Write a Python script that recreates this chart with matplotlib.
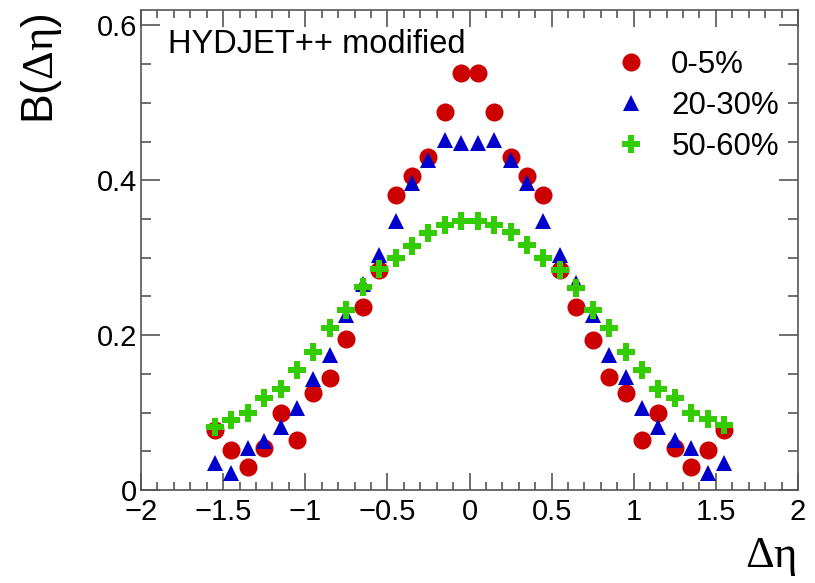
import matplotlib
matplotlib.use("Agg")
import matplotlib.pyplot as plt
from matplotlib.ticker import MultipleLocator

plt.rcParams['font.family'] = ['Liberation Sans', 'DejaVu Sans']
plt.rcParams['mathtext.fontset'] = 'custom'
plt.rcParams['mathtext.rm'] = 'Liberation Serif'
plt.rcParams['mathtext.it'] = 'Liberation Serif:italic'

# ---- data ----
deta = [-1.55, -1.45, -1.35, -1.25, -1.15, -1.05, -0.95, -0.85, -0.75, -0.65,
        -0.55, -0.45, -0.35, -0.25, -0.15, -0.05,
        0.05, 0.15, 0.25, 0.35, 0.45, 0.55, 0.65, 0.75, 0.85, 0.95,
        1.05, 1.15, 1.25, 1.35, 1.45, 1.55]

b_0_5 = [0.077, 0.052, 0.030, 0.054, 0.100, 0.065, 0.125, 0.145, 0.195, 0.236,
         0.284, 0.381, 0.406, 0.430, 0.488, 0.538,
         0.538, 0.488, 0.430, 0.406, 0.381, 0.284, 0.236, 0.194, 0.146, 0.125,
         0.065, 0.100, 0.054, 0.030, 0.052, 0.077]

b_20_30 = [0.035, 0.022, 0.054, 0.063, 0.081, 0.106, 0.143, 0.174, 0.226, 0.266,
           0.303, 0.348, 0.396, 0.426, 0.452, 0.448,
           0.448, 0.452, 0.426, 0.396, 0.348, 0.303, 0.267, 0.226, 0.174, 0.146,
           0.106, 0.081, 0.065, 0.054, 0.022, 0.035]

b_50_60 = [0.082, 0.091, 0.099, 0.119, 0.131, 0.155, 0.178, 0.209, 0.232, 0.262,
           0.285, 0.300, 0.315, 0.332, 0.342, 0.347,
           0.347, 0.342, 0.333, 0.316, 0.300, 0.284, 0.261, 0.232, 0.209, 0.178,
           0.155, 0.131, 0.119, 0.099, 0.092, 0.084]

labels = ['0-5%', '20-30%', '50-60%']
colors = ['#cc0000', '#0000cc', '#33cc00']

# ---- figure ----
W, H = 815, 583
fig = plt.figure(figsize=(W / 100, H / 100), dpi=100)
ax = fig.add_axes([141 / W, 1 - 490 / H, (798 - 141) / W, (490 - 10) / H])

ax.plot(deta, b_0_5, linestyle='none', marker='o', ms=13, mew=0,
        color=colors[0], label=labels[0])
ax.plot(deta, b_20_30, linestyle='none', marker='^', ms=11.5, mew=0,
        color=colors[1], label=labels[1])
ax.plot(deta, b_50_60, linestyle='none', marker='P', ms=13, mew=0,
        color=colors[2], label=labels[2])

ax.set_xlim(-2, 2)
ax.set_ylim(0, 0.62)
ax.xaxis.set_major_locator(MultipleLocator(0.5))
ax.xaxis.set_minor_locator(MultipleLocator(0.1))
ax.yaxis.set_major_locator(MultipleLocator(0.2))
ax.yaxis.set_minor_locator(MultipleLocator(0.05))

def fmt(v, pos):
    if abs(v) < 1e-9:
        return '0'
    s = ('%g' % v)
    return s.replace('-', '\u2212')

ax.xaxis.set_major_formatter(plt.FuncFormatter(fmt))
ax.yaxis.set_major_formatter(plt.FuncFormatter(fmt))

for sp in ax.spines.values():
    sp.set_color('#555555')
    sp.set_linewidth(1.2)

ax.tick_params(axis='both', which='both', direction='in', top=True, right=True,
               colors='#555555', labelcolor='black', width=1.2)
ax.tick_params(axis='x', which='major', length=12, labelsize=21, pad=6)
ax.tick_params(axis='x', which='minor', length=5.5)
ax.tick_params(axis='y', which='major', length=14, labelsize=21, pad=3)
ax.tick_params(axis='y', which='minor', length=7)

fig.text(42 / W, 1 - 69 / H, r'B($\mathrm{\Delta\eta}$)', rotation=90,
         ha='center', va='center', fontsize=32)
fig.text(797 / W, 1 - 557 / H, r'$\mathrm{\Delta\eta}$', ha='right',
         va='center', fontsize=32)
fig.text(168 / W, 1 - 53 / H, 'HYDJET++ modified', ha='left',
         va='baseline', fontsize=23.5)

leg = ax.legend(loc='upper left', bbox_to_anchor=((615 - 141) / (798 - 141), 1 - (50 - 10) / 480),
                frameon=False, fontsize=22.5, handlelength=1.0,
                handletextpad=0.8, labelspacing=0.35, borderpad=0,
                borderaxespad=0, numpoints=1)

fig.savefig('out.png', dpi=100)
